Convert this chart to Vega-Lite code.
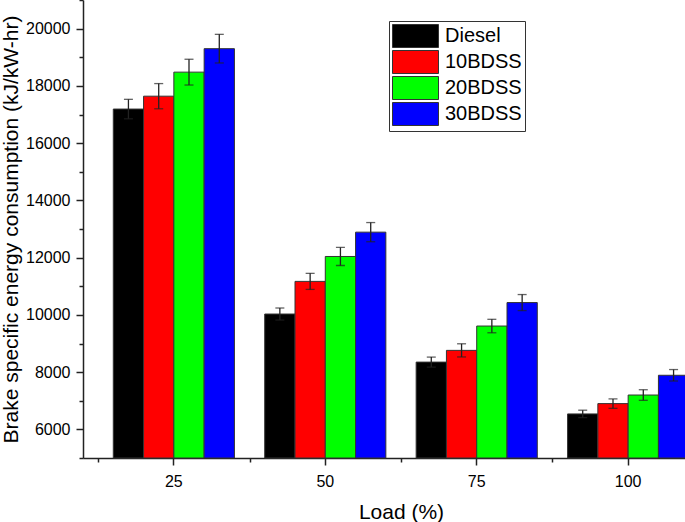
{
  "$schema": "https://vega.github.io/schema/vega-lite/v6.json",
  "autosize": {"type": "none"},
  "padding": {"left": 83, "top": 0, "right": 0, "bottom": 64},
  "width": 602,
  "height": 458,
  "background": "white",
  "config": {
    "view": {"stroke": null},
    "font": "Liberation Sans",
    "axis": {
      "labelFont": "Liberation Sans",
      "titleFont": "Liberation Sans",
      "labelFontSize": 16,
      "titleFontSize": 21,
      "titleFontWeight": "normal",
      "labelColor": "#000",
      "titleColor": "#000",
      "domainColor": "#222",
      "tickColor": "#222",
      "domainWidth": 1.5,
      "tickWidth": 1.5,
      "grid": false
    },
    "legend": {
      "labelFont": "Liberation Sans",
      "labelFontSize": 20,
      "labelColor": "#000",
      "symbolType": "M-1,-1H3V1H-1Z",
      "symbolSize": 529,
      "symbolStrokeColor": "#333",
      "symbolStrokeWidth": 1,
      "symbolOpacity": 1,
      "labelOffset": 29,
      "rowPadding": -2,
      "padding": 3,
      "strokeColor": "#333",
      "fillColor": "white"
    }
  },
  "data": {
    "values": [
      {"load": "25", "fuel": "Diesel", "value": 17190, "err": 340},
      {"load": "25", "fuel": "10BDSS", "value": 17640, "err": 440},
      {"load": "25", "fuel": "20BDSS", "value": 18480, "err": 450},
      {"load": "25", "fuel": "30BDSS", "value": 19300, "err": 500},
      {"load": "50", "fuel": "Diesel", "value": 10030, "err": 210},
      {"load": "50", "fuel": "10BDSS", "value": 11170, "err": 280},
      {"load": "50", "fuel": "20BDSS", "value": 12040, "err": 315},
      {"load": "50", "fuel": "30BDSS", "value": 12890, "err": 335},
      {"load": "75", "fuel": "Diesel", "value": 8350, "err": 175},
      {"load": "75", "fuel": "10BDSS", "value": 8760, "err": 230},
      {"load": "75", "fuel": "20BDSS", "value": 9610, "err": 235},
      {"load": "75", "fuel": "30BDSS", "value": 10430, "err": 280},
      {"load": "100", "fuel": "Diesel", "value": 6540, "err": 130},
      {"load": "100", "fuel": "10BDSS", "value": 6900, "err": 165},
      {"load": "100", "fuel": "20BDSS", "value": 7200, "err": 185},
      {"load": "100", "fuel": "30BDSS", "value": 7890, "err": 200}
    ]
  },
  "layer": [
    {
      "mark": {"type": "bar", "stroke": "#333", "strokeWidth": 1},
      "encoding": {
        "x": {
          "field": "load",
          "type": "ordinal",
          "scale": {"domain": ["25", "50", "75", "100"], "range": [0, 636], "paddingInner": 0, "paddingOuter": 0.1},
          "axis": {"title": "Load (%)", "orient": "bottom", "labelAngle": 0, "tickSize": 7, "labelPadding": 8, "titlePadding": 12}
        },
        "xOffset": {
          "field": "fuel",
          "type": "nominal",
          "scale": {"domain": ["Diesel", "10BDSS", "20BDSS", "30BDSS"], "paddingInner": 0, "paddingOuter": 0.5}
        },
        "y": {
          "field": "value",
          "type": "quantitative",
          "title": "Brake specific energy consumption (kJ/kW-hr)",
          "scale": {"domain": [5000, 21000], "nice": false, "zero": false},
          "axis": {
            "orient": "left",
            "values": [6000, 8000, 10000, 12000, 14000, 16000, 18000, 20000],
            "format": "d",
            "tickSize": 7,
            "labelPadding": 6,
            "titlePadding": 4,
            "labelOverlap": false
          }
        },
        "y2": {"datum": 5000},
        "color": {
          "field": "fuel",
          "type": "nominal",
          "scale": {"domain": ["Diesel", "10BDSS", "20BDSS", "30BDSS"], "range": ["#000000", "#ff0000", "#00ff00", "#0000ff"]},
          "legend": {"title": null, "orient": "none", "legendX": 306, "legendY": 21}
        }
      }
    },
    {
      "mark": {"type": "errorbar", "ticks": {"size": 9, "thickness": 1.3}, "thickness": 1.3, "color": "#222"},
      "encoding": {
        "x": {
          "field": "load",
          "type": "ordinal",
          "axis": {"title": null, "orient": "bottom", "labels": false, "domain": false, "tickBand": "extent", "tickSize": 4}
        },
        "xOffset": {"field": "fuel", "type": "nominal"},
        "y": {
          "field": "value",
          "type": "quantitative",
          "axis": {"title": null, "orient": "left", "labels": false, "domain": false, "tickSize": 4, "values": [5000, 7000, 9000, 11000, 13000, 15000, 17000, 19000, 21000]}
        },
        "yError": {"field": "err"}
      }
    }
  ],
  "resolve": {"axis": {"x": "independent", "y": "independent"}}
}
